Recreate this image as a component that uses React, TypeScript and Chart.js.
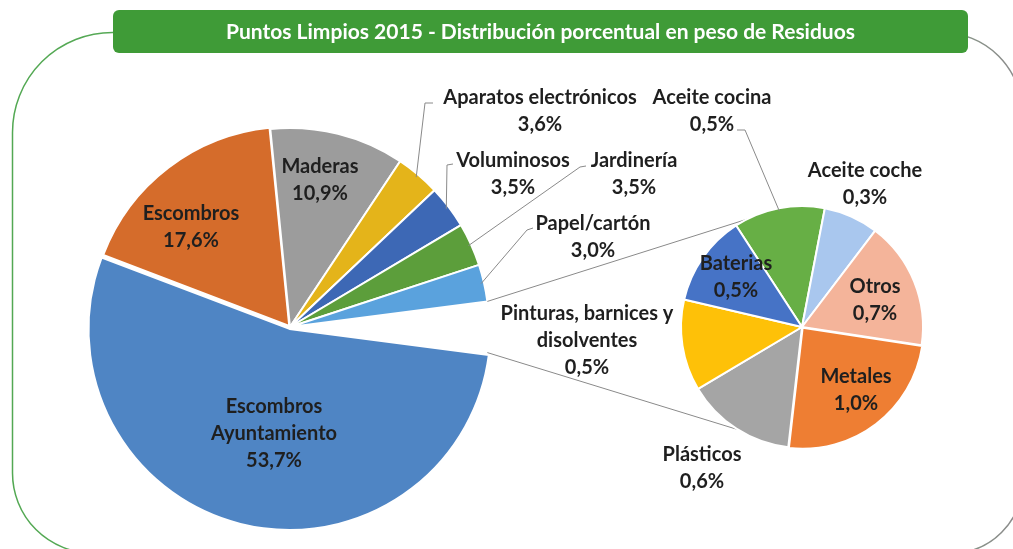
import React, { useEffect, useRef } from "react";
import { Chart, registerables } from "chart.js";

Chart.register(...registerables);

// ---------- DATA ----------
const TITLE = "Puntos Limpios 2015 - Distribución porcentual en peso de Residuos";

const MAIN_CATEGORIES = [
  "Escombros Ayuntamiento",
  "Escombros",
  "Maderas",
  "Aparatos electrónicos",
  "Voluminosos",
  "Jardinería",
  "Papel/cartón",
];
const MAIN_VALUES = [53.7, 17.6, 10.9, 3.6, 3.5, 3.5, 3.0];

const SECOND_CATEGORIES = [
  "Aceite cocina",
  "Aceite coche",
  "Otros",
  "Metales",
  "Plásticos",
  "Pinturas, barnices y disolventes",
  "Baterias",
];
const SECOND_VALUES = [0.5, 0.3, 0.7, 1.0, 0.6, 0.5, 0.5];

const LABEL_WRAP: Record<string, string[]> = {
  "Escombros Ayuntamiento": ["Escombros", "Ayuntamiento"],
  "Pinturas, barnices y disolventes": ["Pinturas, barnices y", "disolventes"],
};

// ---------- STYLE / LAYOUT ----------
const W = 1013;
const H = 549;

const MAIN_COLORS = ["#4f85c4", "#d56c2b", "#9c9c9c", "#e4b41a", "#3d68b5", "#5c9e3b", "#5aa2dd"];
const SECOND_COLORS = ["#67af45", "#a9c7ee", "#f4b49a", "#ee7e33", "#a5a5a5", "#fec108", "#4673c6"];
const MAIN_OFFSETS = [8, 5, 0, 0, 0, 0, 0, 0];
const SECOND_OFFSETS = [0, 0, 0, 4, 0, 0, 0];

const MAIN_CENTER = { x: 290, y: 327 };
const MAIN_RADIUS = 199;
const SECOND_CENTER = { x: 802, y: 327 };
const SECOND_RADIUS = 121;
const SECOND_ROTATION = -33;
const CONNECTOR_ANGLES = { upper: -117, lower: 122 };

const LABEL_FONT = "bold 20px Lato, 'Open Sans', sans-serif";
const TITLE_FONT = "bold 21px Lato, 'Open Sans', sans-serif";
const LABEL_COLOR = "#1f1f1f";
const LINE_H = 27;
const LEADER_COLOR = "#8a8a8a";

type LabelPos = { dx: number; dy: number; leader?: [number, number][] };

const MAIN_LABEL_POS: LabelPos[] = [
  { dx: -16, dy: 107 },
  { dx: -99, dy: -100 },
  { dx: 30, dy: -147 },
  { dx: 250, dy: -216, leader: [[135, -224], [143, -224]] },
  { dx: 223, dy: -153, leader: [[157, -162], [163, -163]] },
  { dx: 344, dy: -153, leader: [[290, -160], [296, -161]] },
  { dx: 303, dy: -90, leader: [[237, -97], [243, -99]] },
];

const SECOND_LABEL_POS: LabelPos[] = [
  { dx: -90, dy: -216, leader: [[-57, -197], [-65, -197]] },
  { dx: 63, dy: -143 },
  { dx: 73, dy: -27 },
  { dx: 54, dy: 63 },
  { dx: -100, dy: 141 },
  { dx: -215, dy: 14 },
  { dx: -66, dy: -50 },
];

const fmt = (v: number) => v.toFixed(1).replace(".", ",") + "%";

function drawLabels(chart: any, layout: LabelPos[], cats: string[], vals: number[]) {
  const ctx: CanvasRenderingContext2D = chart.ctx;
  const meta = chart.getDatasetMeta(0);
  const a0 = meta.data[0] as any;
  const cx = a0.x;
  const cy = a0.y;
  ctx.save();
  ctx.strokeStyle = LEADER_COLOR;
  ctx.lineWidth = 1;
  layout.forEach((l, i) => {
    if (!l.leader) return;
    const a = meta.data[i] as any;
    const p = a.getProps(["startAngle", "endAngle", "outerRadius"], true);
    const mid = (p.startAngle + p.endAngle) / 2;
    const off = (a.options && a.options.offset) || 0;
    const r = p.outerRadius - 3 + off;
    ctx.beginPath();
    ctx.moveTo(cx + Math.cos(mid) * r, cy + Math.sin(mid) * r);
    l.leader.forEach(([dx, dy]) => ctx.lineTo(cx + dx, cy + dy));
    ctx.stroke();
  });
  ctx.font = LABEL_FONT;
  ctx.fillStyle = LABEL_COLOR;
  ctx.textAlign = "center";
  ctx.textBaseline = "middle";
  layout.forEach((l, i) => {
    const lines = [...(LABEL_WRAP[cats[i]] ?? [cats[i]]), fmt(vals[i])];
    const n = lines.length;
    lines.forEach((t, k) => {
      ctx.fillText(t, cx + l.dx, cy + l.dy + (k - (n - 1) / 2) * LINE_H);
    });
  });
  ctx.restore();
}

const backgroundPlugin = {
  id: "bgFrame",
  beforeDraw(chart: any) {
    const ctx: CanvasRenderingContext2D = chart.ctx;
    ctx.save();
    ctx.fillStyle = "#ffffff";
    ctx.fillRect(0, 0, W, H);
    // frame
    const g = ctx.createLinearGradient(0, 0, W, 0);
    g.addColorStop(0, "#52a852");
    g.addColorStop(0.75, "#6fae6f");
    g.addColorStop(1, "#8c8c8c");
    ctx.strokeStyle = g;
    ctx.lineWidth = 1.5;
    ctx.beginPath();
    (ctx as any).roundRect(12.5, 32.5, 1022 - 12.5, 553 - 32.5, [100, 80, 70, 80]);
    ctx.stroke();
    // banner
    ctx.fillStyle = "#3f9b37";
    ctx.beginPath();
    (ctx as any).roundRect(113, 10, 968 - 113, 43, 6);
    ctx.fill();
    ctx.fillStyle = "#ffffff";
    ctx.font = TITLE_FONT;
    ctx.textAlign = "center";
    ctx.textBaseline = "middle";
    ctx.fillText(TITLE, (113 + 968) / 2, 32, 632);
    ctx.restore();
  },
};

export default function App() {
  const ref1 = useRef<HTMLCanvasElement>(null);
  const ref2 = useRef<HTMLCanvasElement>(null);

  useEffect(() => {
    if (!ref1.current || !ref2.current) return;
    const otherTotal = SECOND_VALUES.reduce((s, v) => s + v, 0);
    const mainData = [...MAIN_VALUES, otherTotal];
    const total = mainData.reduce((s, v) => s + v, 0);
    const halfAgg = ((otherTotal / total) * 360) / 2;

    const c1 = new Chart(ref1.current, {
      type: "pie",
      data: {
        labels: [...MAIN_CATEGORIES, "Otros"],
        datasets: [
          {
            data: mainData,
            backgroundColor: [...MAIN_COLORS, "rgba(0,0,0,0)"],
            borderColor: [...MAIN_COLORS.map(() => "#ffffff"), "rgba(0,0,0,0)"],
            borderWidth: [...MAIN_COLORS.map(() => 2), 0],
            offset: MAIN_OFFSETS,
          } as any,
        ],
      },
      options: {
        responsive: false,
        animation: false,
        events: [],
        radius: MAIN_RADIUS,
        rotation: 90 + halfAgg,
        layout: {
          padding: { left: 0, right: W - 2 * MAIN_CENTER.x, top: 2 * MAIN_CENTER.y - H, bottom: 0 },
        },
        plugins: { legend: { display: false }, tooltip: { enabled: false } },
      } as any,
      plugins: [
        backgroundPlugin,
        {
          id: "mainLabels",
          afterDatasetsDraw(chart: any) {
            drawLabels(chart, MAIN_LABEL_POS, MAIN_CATEGORIES, MAIN_VALUES);
          },
        },
      ],
    });

    const c2 = new Chart(ref2.current, {
      type: "pie",
      data: {
        labels: SECOND_CATEGORIES,
        datasets: [
          {
            data: SECOND_VALUES,
            backgroundColor: SECOND_COLORS,
            borderColor: "#ffffff",
            borderWidth: 2,
            offset: SECOND_OFFSETS,
          } as any,
        ],
      },
      options: {
        responsive: false,
        animation: false,
        events: [],
        radius: SECOND_RADIUS,
        rotation: SECOND_ROTATION,
        layout: {
          padding: { left: 2 * SECOND_CENTER.x - W, right: 0, top: 2 * SECOND_CENTER.y - H, bottom: 0 },
        },
        plugins: { legend: { display: false }, tooltip: { enabled: false } },
      } as any,
      plugins: [
        {
          id: "connectors",
          beforeDatasetsDraw(chart: any) {
            const m1 = c1.getDatasetMeta(0);
            const agg = m1.data[m1.data.length - 1] as any;
            const p = agg.getProps(["x", "y", "startAngle", "endAngle", "outerRadius"], true);
            const m2 = chart.getDatasetMeta(0);
            const s0 = m2.data[0] as any;
            const q = s0.getProps(["x", "y", "outerRadius"], true);
            const ctx: CanvasRenderingContext2D = chart.ctx;
            const ua = (CONNECTOR_ANGLES.upper * Math.PI) / 180;
            const la = (CONNECTOR_ANGLES.lower * Math.PI) / 180;
            ctx.save();
            ctx.strokeStyle = LEADER_COLOR;
            ctx.lineWidth = 1;
            ctx.beginPath();
            ctx.moveTo(p.x + Math.cos(p.startAngle) * p.outerRadius, p.y + Math.sin(p.startAngle) * p.outerRadius);
            ctx.lineTo(q.x + Math.cos(ua) * q.outerRadius, q.y + Math.sin(ua) * q.outerRadius);
            ctx.moveTo(p.x + Math.cos(p.endAngle) * p.outerRadius, p.y + Math.sin(p.endAngle) * p.outerRadius);
            ctx.lineTo(q.x + Math.cos(la) * q.outerRadius, q.y + Math.sin(la) * q.outerRadius);
            ctx.stroke();
            ctx.restore();
          },
          afterDatasetsDraw(chart: any) {
            drawLabels(chart, SECOND_LABEL_POS, SECOND_CATEGORIES, SECOND_VALUES);
          },
        },
      ],
    });

    const fonts = (document as any).fonts;
    if (fonts && fonts.load) {
      fonts.load("bold 20px Lato").then(() => {
        c1.draw();
        c2.draw();
      }, () => {});
    }

    return () => {
      c1.destroy();
      c2.destroy();
    };
  }, []);

  const canvasStyle: React.CSSProperties = {
    position: "absolute",
    left: 0,
    top: 0,
    width: W,
    height: H,
  };

  return (
    <div style={{ position: "fixed", left: 0, top: 0, width: W, height: H, overflow: "hidden", background: "#fff" }}>
      <canvas ref={ref1} width={W} height={H} style={canvasStyle} />
      <canvas ref={ref2} width={W} height={H} style={canvasStyle} />
    </div>
  );
}
